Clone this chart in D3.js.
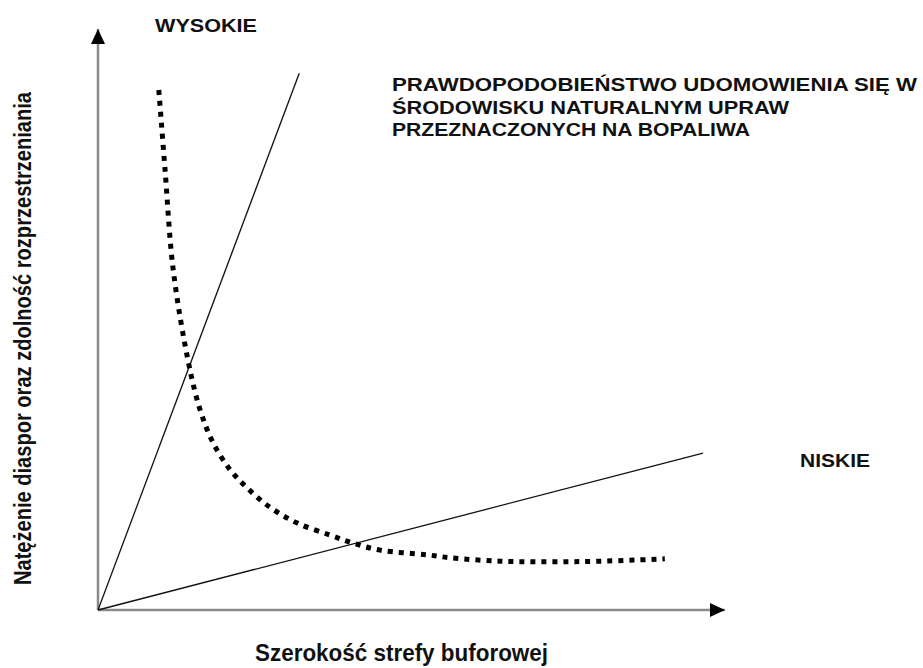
<!DOCTYPE html>
<html lang="pl">
<head>
<meta charset="UTF-8">
<title>Strefa buforowa</title>
<style>
    body { margin: 0; background: #fff; }
    svg { display: block; }
    .lbl { font-family: "Liberation Sans", Arial, sans-serif; font-weight: bold; fill: #111; }
    .narrow { font-family: "Liberation Sans Narrow", "Arial Narrow", "Liberation Sans", sans-serif; font-weight: bold; fill: #111; }
</style>
</head>
<body>
<div id="chart"></div>
<script src="https://cdnjs.cloudflare.com/ajax/libs/d3/7.8.5/d3.min.js"></script>
<script>
// conceptual units 0..100 on both axes
var xDomain = [0, 100];
var yDomain = [0, 100];

// the two straight lines from the origin
var steepX = [0, 32.1];
var steepY = [0, 92.4];
var shallowX = [0, 96.5];
var shallowY = [0, 27.0];

// dotted curve (probability of domestication)
var curveX = [9.7, 10.7, 12.0, 14.5, 16.3, 18.3, 21.1, 23.8, 27.4, 31.7, 37.0, 40.7, 45.0, 52.5, 56.1, 64.1, 72.1, 80.1, 90.4];
var curveY = [89.5, 75.7, 58.5, 42.2, 34.4, 28.9, 24.1, 21.0, 17.7, 15.0, 12.9, 11.5, 10.3, 9.5, 9.0, 8.4, 8.3, 8.4, 8.8];

var labelHigh = 'WYSOKIE';
var labelLow = 'NISKIE';
var noteLines = ['PRAWDOPODOBIEŃSTWO UDOMOWIENIA SIĘ W', 'ŚRODOWISKU NATURALNYM UPRAW', 'PRZEZNACZONYCH NA BOPALIWA'];
var xTitle = 'Szerokość strefy buforowej';
var yTitle = 'Natężenie diaspor oraz zdolność rozprzestrzeniania';

var width = 923, height = 668;

var svg = d3.select('#chart').append('svg')
    .attr('width', width)
    .attr('height', height);

var x = d3.scaleLinear().domain(xDomain).range([98, 725]);
var y = d3.scaleLinear().domain(yDomain).range([610, 29]);

// arrow heads
var defs = svg.append('defs');
defs.append('marker')
    .attr('id', 'arrow')
    .attr('markerUnits', 'userSpaceOnUse')
    .attr('viewBox', '0 0 15 14')
    .attr('refX', 15).attr('refY', 7)
    .attr('markerWidth', 15).attr('markerHeight', 14)
    .attr('orient', 'auto')
    .append('path')
    .attr('d', 'M0,0 L15,7 L0,14 Z')
    .attr('fill', '#000');

// axes: gray line with black arrow
svg.append('line')
    .attr('x1', x(0)).attr('y1', y(0))
    .attr('x2', x(xDomain[1])).attr('y2', y(0))
    .attr('stroke', '#8a8a8a').attr('stroke-width', 2.5)
    .attr('marker-end', 'url(#arrow)');

svg.append('line')
    .attr('x1', x(0)).attr('y1', y(0))
    .attr('x2', x(0)).attr('y2', y(yDomain[1]))
    .attr('stroke', '#8a8a8a').attr('stroke-width', 2.5)
    .attr('marker-end', 'url(#arrow)');

var line = d3.line().x(function (d) { return x(d[0]); }).y(function (d) { return y(d[1]); });

// straight lines
[[steepX, steepY], [shallowX, shallowY]].forEach(function (s) {
    svg.append('path')
        .datum(d3.zip(s[0], s[1]))
        .attr('d', line)
        .attr('fill', 'none')
        .attr('stroke', '#111')
        .attr('stroke-width', 1.3);
});

// dotted curve
svg.append('path')
    .datum(d3.zip(curveX, curveY))
    .attr('d', line.curve(d3.curveCatmullRom.alpha(0.5)))
    .attr('fill', 'none')
    .attr('stroke', '#000')
    .attr('stroke-width', 5)
    .attr('stroke-dasharray', '5,6');

// labels
svg.append('text').attr('class', 'lbl')
    .attr('x', 155).attr('y', 32)
    .attr('font-size', 19)
    .attr('textLength', 102).attr('lengthAdjust', 'spacingAndGlyphs')
    .text(labelHigh);

svg.append('text').attr('class', 'lbl')
    .attr('x', 800).attr('y', 467)
    .attr('font-size', 19)
    .attr('textLength', 70).attr('lengthAdjust', 'spacingAndGlyphs')
    .text(labelLow);

var noteWidths = [525, 397, 358];
noteLines.forEach(function (t, i) {
    svg.append('text').attr('class', 'lbl')
        .attr('x', 392).attr('y', 91 + i * 22.5)
        .attr('font-size', 19)
        .attr('textLength', noteWidths[i]).attr('lengthAdjust', 'spacingAndGlyphs')
        .text(t);
});

svg.append('text').attr('class', 'narrow')
    .attr('x', 255).attr('y', 661)
    .attr('font-size', 23)
    .attr('textLength', 293).attr('lengthAdjust', 'spacingAndGlyphs')
    .text(xTitle);

svg.append('text').attr('class', 'narrow')
    .attr('transform', 'translate(31,585) rotate(-90)')
    .attr('font-size', 23)
    .attr('textLength', 493).attr('lengthAdjust', 'spacingAndGlyphs')
    .text(yTitle);
</script>
</body>
</html>
